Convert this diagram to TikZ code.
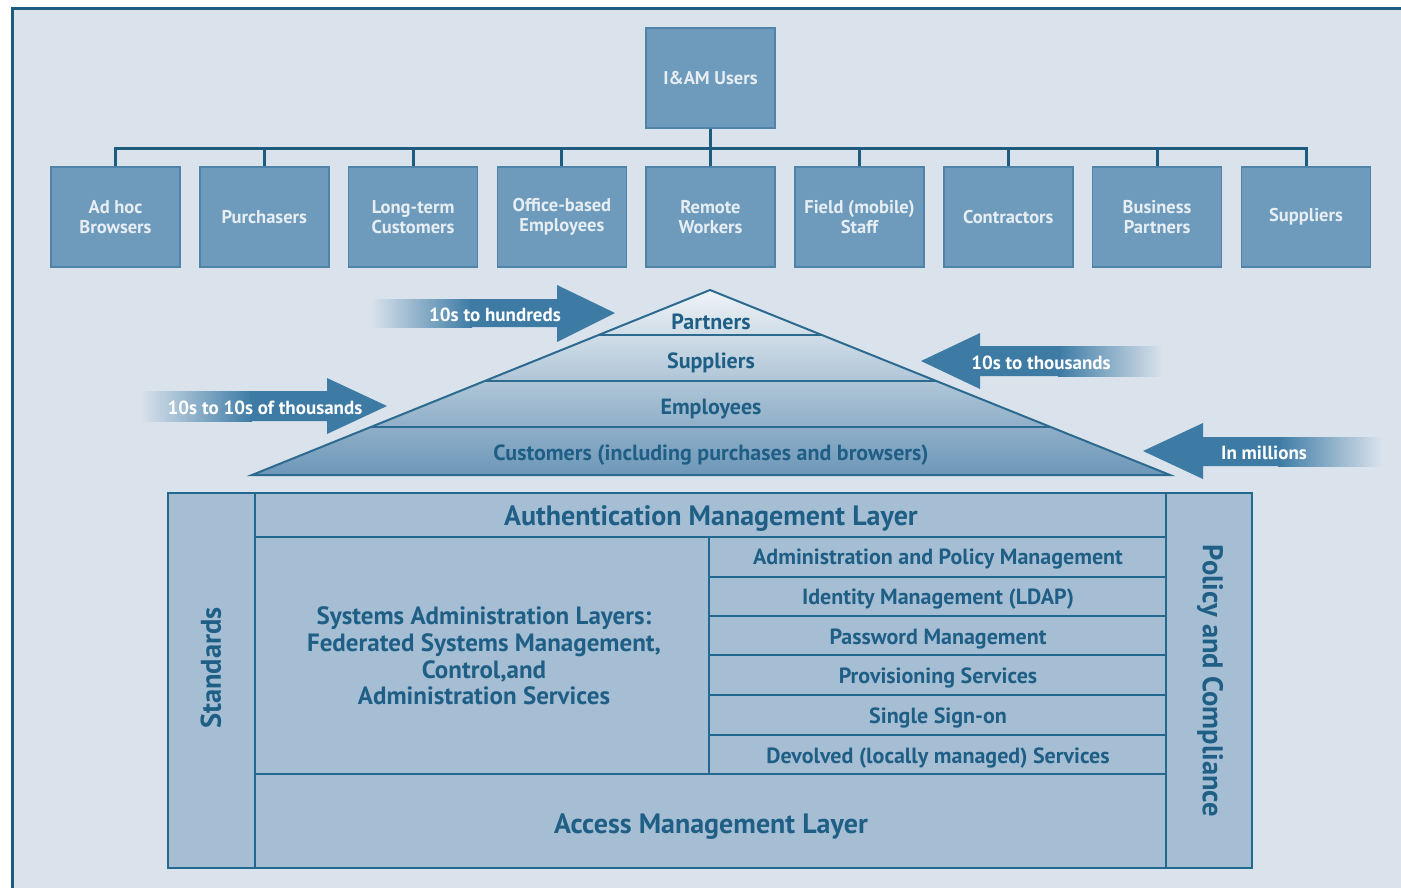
\documentclass[tikz,border=0pt]{standalone}
\usepackage{fontspec}
\setmainfont{PT Sans}
\usetikzlibrary{calc}
\definecolor{bg}{HTML}{DAE3EC}
\definecolor{framec}{HTML}{1D5C7E}
\definecolor{boxfill}{HTML}{6E9BBC}
\definecolor{boxedge}{HTML}{4F83A8}
\definecolor{boxtext}{HTML}{E6EDF3}
\definecolor{conn}{HTML}{1D5C7E}
\definecolor{triTop}{HTML}{F0F4F7}
\definecolor{triBot}{HTML}{6C96B7}
\definecolor{tline}{HTML}{2C6A90}
\definecolor{dtext}{HTML}{1F5F86}
\definecolor{arrowc}{HTML}{3D7BA5}
\definecolor{botfill}{HTML}{A6BED4}
\definecolor{bline}{HTML}{23698F}
\begin{document}
\begin{tikzpicture}[x=1pt,y=-1pt,
  ubox/.style={draw=boxedge, line width=1.5pt, fill=boxfill, minimum width=129pt, minimum height=100pt, inner sep=0pt, align=center, text=boxtext, font=\bfseries\fontsize{18.5}{20.5}\selectfont},
  connline/.style={draw=conn, line width=3pt, line join=miter},
  trilbl/.style={text=dtext, font=\bfseries\fontsize{22}{25}\selectfont, inner sep=0pt},
  trilinestyle/.style={draw=tline, line width=2pt},
  arrowlbl/.style={text=white, font=\bfseries\fontsize{19}{22}\selectfont, inner sep=0pt},
  blinestyle/.style={draw=bline, line width=2.2pt},
  biglbl/.style={text=dtext, font=\bfseries\fontsize{28}{32}\selectfont, inner sep=0pt},
  listlbl/.style={text=dtext, font=\bfseries\fontsize{22}{25}\selectfont, inner sep=0pt},
  midlbl/.style={text=dtext, font=\bfseries\fontsize{25}{26.7}\selectfont, inner sep=0pt, align=center},
  sidelbl/.style={text=dtext, font=\bfseries\fontsize{28.5}{32}\selectfont, inner sep=0pt}
]
\useasboundingbox (0,0) rectangle (1401,887);
\clip (0,0) rectangle (1401,887);
\fill[white] (0,0) rectangle (1401,887);
\fill[bg] (12,8) rectangle (1420,900);
\draw[framec, line width=3pt] (12,900) -- (12,8) -- (1420,8);

% ---- tree ----
\node[ubox, text depth=0pt] (top) at (710.5,78) {I\&AM Users};
\node[ubox] (b1) at (115.5,217) {Ad hoc\\Browsers};
\node[ubox] (b2) at (264.3,217) {Purchasers};
\node[ubox] (b3) at (413.1,217) {Long-term\\Customers};
\node[ubox] (b4) at (561.9,217) {Office-based\\Employees};
\node[ubox] (b5) at (710.5,217) {Remote\\Workers};
\node[ubox] (b6) at (859.5,217) {Field (mobile)\\Staff};
\node[ubox] (b7) at (1008.3,217) {Contractors};
\node[ubox] (b8) at (1157.1,217) {Business\\Partners};
\node[ubox] (b9) at (1306,217) {Suppliers};
\coordinate (bus) at (0,148);
\draw[connline] (b1.north) -- (b1.north |- bus) -- (b9.north |- bus) -- (b9.north);
\foreach \b in {b2,b3,b4,b5,b6,b7,b8} \draw[connline] (\b.north) -- (\b.north |- bus);
\draw[connline] (top.south) -- (top.south |- bus);

% ---- triangle ----
\coordinate (tA) at (252,475);
\coordinate (tP) at (710,290);
\coordinate (tB) at (1170,475);
\begin{scope}
  \clip (tA) -- (tP) -- (tB) -- cycle;
  \shade[top color=triTop, bottom color=triBot] (250,288) rectangle (1172,477);
\end{scope}
\draw[trilinestyle] ($(tA)!0.7568!(tP)$) -- ($(tB)!0.7568!(tP)$);
\draw[trilinestyle] ($(tA)!0.5081!(tP)$) -- ($(tB)!0.5081!(tP)$);
\draw[trilinestyle] ($(tA)!0.2595!(tP)$) -- ($(tB)!0.2595!(tP)$);
\draw[trilinestyle, line join=miter] (tA) -- (tP) -- (tB) -- cycle;
\node[trilbl] (tpart) at (711,322) {Partners};
\node[trilbl] (tsupp) at (711,363) {Suppliers};
\node[trilbl] (temp) at (711,409) {Employees};
\node[trilbl] (tcust) at (711,455) {Customers (including purchases and browsers)};

% ---- arrows ----
% arrow 1 (right)
\shade[left color=bg, right color=arrowc] (370,299) rectangle (472,327);
\fill[arrowc] (470,299) -- (557,299) -- (557,285) -- (615,313) -- (557,342) -- (557,327) -- (470,327) -- cycle;
\node[arrowlbl] (a1) at (495,315) {10s to hundreds};
% arrow 2 (right)
\shade[left color=bg, right color=arrowc] (140,391) rectangle (252,421);
\fill[arrowc] (250,391) -- (327,391) -- (327,378) -- (387,406) -- (327,434) -- (327,421) -- (250,421) -- cycle;
\node[arrowlbl] (a2) at (265,408) {10s to 10s of thousands};
% arrow 3 (left)
\shade[left color=arrowc, right color=bg] (1058,346) rectangle (1163,376);
\fill[arrowc] (1060,346) -- (980,346) -- (980,333) -- (921,361) -- (980,389) -- (980,376) -- (1060,376) -- cycle;
\node[arrowlbl] (a3) at (1041,363) {10s to thousands};
% arrow 4 (left)
\shade[left color=arrowc, right color=bg] (1278,437) rectangle (1382,466);
\fill[arrowc] (1280,437) -- (1203,437) -- (1203,423) -- (1143,451) -- (1203,479) -- (1203,466) -- (1280,466) -- cycle;
\node[arrowlbl] (a4) at (1264,453) {In millions};

% ---- bottom structure ----
\fill[botfill] (168,493) rectangle (1252,868);
\draw[blinestyle] (168,493) rectangle (1252,868);
\draw[blinestyle] (255,493) -- (255,868);
\draw[blinestyle] (1166,493) -- (1166,868);
\draw[blinestyle] (255,537) -- (1166,537);
\draw[blinestyle] (255,774) -- (1166,774);
\draw[blinestyle] (709,537) -- (709,774);
\foreach \yy in {577,616,655,695,735} \draw[blinestyle] (709,\yy) -- (1166,\yy);

\node[biglbl] (auth) at (711,519) {Authentication Management Layer};
\node[biglbl] (access) at (711,827) {Access Management Layer};
\node[midlbl] (sys) at (484,656) {Systems Administration Layers:\\Federated Systems Management,\\Control,and\\Administration Services};
\node[listlbl] (l1) at (938,559) {Administration and Policy Management};
\node[listlbl] (l2) at (938,599) {Identity Management (LDAP)};
\node[listlbl] (l3) at (938,639) {Password Management};
\node[listlbl] (l4) at (938,678) {Provisioning Services};
\node[listlbl] (l5) at (938,718) {Single Sign-on};
\node[listlbl] (l6) at (938,758) {Devolved (locally managed) Services};
\node[sidelbl, rotate=90] (std) at (211,668) {Standards};
\node[sidelbl, rotate=-90] (pol) at (1210,681) {Policy and Compliance};
\end{tikzpicture}
\end{document}
